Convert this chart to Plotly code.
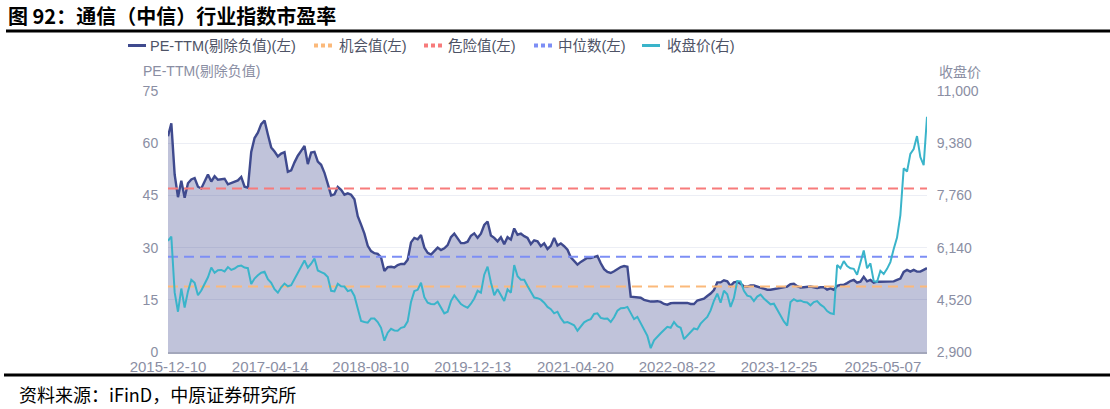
import pandas as pd
import plotly.graph_objects as go

# ---------------- data ----------------
dates = pd.date_range("2015-12-10", periods=229, freq="16D")

pe_ttm = [
    62, 65.7, 51, 44.5, 49.2, 44.3, 48.5, 49.6, 50, 47.5,
    47, 49, 51, 49, 50.5, 49.5, 49.6, 49.8, 48.2, 48.6,
    48.8, 49.3, 50.3, 47.5, 47.2, 57.5, 61.5, 63, 65.5, 66.5,
    62.5, 58.8, 57.6, 56.2, 57, 57.4, 51.8, 52.2, 54.5, 56.4,
    57.8, 59.2, 54, 57.3, 57.5, 54.7, 53.8, 51.5, 48.3, 45,
    45.3, 47.4, 46.6, 45.2, 45.6, 45.2, 43.9, 39, 36.6, 34,
    30.5, 29, 28.4, 28.2, 27.2, 23.3, 24.4, 24.5, 24.3, 25,
    25.3, 25.3, 26.5, 31.5, 32.8, 32.4, 33.6, 30, 28.5, 28,
    29, 30, 29.3, 29.8, 30.7, 33, 34, 32.5, 31.3, 31.3,
    31.7, 33.4, 34.1, 32.8, 34, 36.5, 37.5, 33.5, 32.8, 31.8,
    33, 31, 33, 32.3, 35.5, 33.7, 34, 33.3, 32.8, 31,
    32.1, 31.8, 30.4, 31.2, 29.6, 30.5, 32.8, 30.6, 31.2, 30.4,
    29.4, 27.2, 26.1, 25.1, 25.9, 26.6, 27.1, 27, 27.2, 27.6,
    25.5, 23.8, 23, 22.7, 23.2, 23.8, 24.4, 24.7, 24.5, 15.9,
    15.8, 15.5, 15.6, 15, 14.7, 14.5, 14.5, 14.6, 14.4, 13.8,
    13.6, 14, 14.1, 14.1, 14.1, 14, 14.1, 13.8, 13.8, 14.8,
    15, 15.3, 16.1, 16.8, 17.8, 20, 20, 20.6, 20.3, 19,
    20, 20.2, 19.6, 18.9, 18.8, 19.1, 19.1, 18.8, 18.6, 18.3,
    17.9, 17.9, 18.1, 18.4, 18.4, 18.6, 18.8, 19.5, 19.6, 18.9,
    18.5, 18.6, 18.8, 18.8, 18.6, 18.4, 18.6, 18.6, 17.9, 18.3,
    17.9, 19, 19.3, 19.3, 19.8, 20.4, 20.7, 19.9, 20.2, 21.6,
    20.3, 20.7, 19.9, 20.2, 20.2, 20.2, 20.2, 20.2, 20.3, 20.7,
    21.1, 23, 23.6, 23.1, 23.6, 23.1, 23.1, 23.6, 24.1,
]

close_price = [
    6350, 6479, 4750, 4150, 4870, 4280, 4780, 5140, 5045, 4660,
    4810, 5020, 5220, 5520, 5360, 5440, 5447, 5400, 5535, 5450,
    5490, 5560, 5580, 5520, 5500, 5010, 5180, 5280, 5360, 5390,
    5160, 5045, 4850, 4740, 4910, 5025, 4940, 4975, 5170, 5330,
    5530, 5740, 5520, 5640, 5800, 5430, 5380, 5330, 5230, 4800,
    4780, 5015, 4940, 4931, 4790, 4825, 4640, 4200, 3860, 3830,
    3810, 3940, 3940, 3830, 3650, 3250, 3500, 3620, 3570, 3560,
    3650, 3680, 3850, 4450, 4790, 4830, 5050, 4600, 4430, 4390,
    4380, 4460, 4280, 4100, 4150, 4480, 4660, 4520, 4390, 4320,
    4270, 4400, 4560, 4800, 4740, 5300, 5550, 5060, 4660, 4850,
    4650, 4480, 4840, 4740, 5600, 5250, 5145, 5140, 4950, 4750,
    4590, 4570, 4525, 4430, 4300, 4230, 4100, 4150, 3950, 3810,
    3830, 3780, 3730, 3560, 3680, 3820, 3880, 3920, 4080, 4100,
    3960, 3930, 3940, 3830, 3980, 4180, 4260, 4262, 4300, 4130,
    3920, 3990, 3810, 3600, 3400, 3020, 3260, 3380, 3480, 3580,
    3680, 3650, 3830, 3700, 3650, 3300, 3420, 3530, 3630, 3600,
    3780, 3890, 3990, 4190, 4490, 4710, 4430, 4800, 4690, 4300,
    4580, 5100, 5090, 4800, 4650, 4620, 4480, 4620, 4680, 4560,
    4470, 4380, 4400, 4190, 4030, 3850, 3720, 4450, 4540, 4480,
    4500, 4450, 4440, 4350, 4450, 4480, 4370, 4300, 4170, 4100,
    4080, 5600, 5500, 5720, 5570, 5500, 5480, 5300, 5640, 6050,
    5500, 5650, 5100, 5080, 5420, 5320, 5480, 5690, 6100, 6450,
    7150, 8600, 8500, 9050, 9200, 9600, 8950, 8700, 10200,
]

opportunity_value = 18.8   # 机会值
danger_value = 47.0        # 危险值
median_value = 27.4        # 中位数

left_ticks = [0, 15, 30, 45, 60, 75]
right_ticks = [2900, 4520, 6140, 7760, 9380, 11000]
x_tick_dates = ["2015-12-10", "2017-04-14", "2018-08-10", "2019-12-13",
                "2021-04-20", "2022-08-22", "2023-12-25", "2025-05-07"]

series_names = ["PE-TTM(剔除负值)(左)", "机会值(左)", "危险值(左)", "中位数(左)", "收盘价(右)"]

# ---------------- style ----------------
C_PE = "#3f4a8e"
C_FILL = "rgba(63,74,142,0.33)"
C_OPP = "#fbb97a"
C_DANGER = "#f77b7b"
C_MEDIAN = "#7d8ef5"
C_CLOSE = "#3ab4ca"
C_TICK = "#8a8ea3"
C_LEGEND = "#4e5366"

W, H = 1110, 409
L, R, T, B = 168, 183, 91, 57
PW, PH = W - L - R, H - T - B

def px(xp):
    return (xp - L) / PW

def py(yp):
    return (H - B - yp) / PH

CJK = "Liberation Sans, Noto Sans CJK SC, sans-serif"

fig = go.Figure()

fig.add_trace(go.Scatter(
    x=dates, y=pe_ttm, mode="lines", name=series_names[0],
    line=dict(color=C_PE, width=2.4), fill="tozeroy", fillcolor=C_FILL,
    showlegend=False, yaxis="y"))

for val, col, nm in [(opportunity_value, C_OPP, series_names[1]),
                     (danger_value, C_DANGER, series_names[2]),
                     (median_value, C_MEDIAN, series_names[3])]:
    fig.add_trace(go.Scatter(
        x=dates, y=[val] * len(dates), mode="lines", name=nm,
        line=dict(color=col, width=2, dash="10px,6px"),
        showlegend=False, yaxis="y"))

fig.add_trace(go.Scatter(
    x=dates, y=close_price, mode="lines", name=series_names[4],
    line=dict(color=C_CLOSE, width=2),
    showlegend=False, yaxis="y2"))

fig.update_layout(
    width=W, height=H,
    margin=dict(l=L, r=R, t=T, b=B),
    paper_bgcolor="white", plot_bgcolor="white",
    showlegend=False,
    xaxis=dict(
        type="date",
        range=[dates[0], dates[-1]],
        tickvals=x_tick_dates,
        tickformat="%Y-%m-%d",
        tickfont=dict(family="Liberation Sans, Arial, sans-serif", size=15, color=C_TICK),
        showgrid=False, zeroline=False,
        showline=True, linecolor="#a3a7bb", linewidth=1.5,
        ticks="outside", ticklen=0, ticklabelstandoff=0,
    ),
    yaxis=dict(
        range=[0, 75], tickvals=left_ticks,
        tickfont=dict(family=CJK, size=14, color=C_TICK),
        showgrid=True, gridcolor="#eceef5", gridwidth=1,
        zeroline=False, showline=False,
        ticks="outside", ticklen=0, ticklabelstandoff=6,
    ),
    yaxis2=dict(
        range=[2900, 11000], tickvals=right_ticks, tickformat=",",
        overlaying="y", side="right",
        tickfont=dict(family=CJK, size=14, color=C_TICK),
        showgrid=False, zeroline=False, showline=False,
        ticks="outside", ticklen=0, ticklabelstandoff=6,
    ),
)

annotations = []
shapes = []

# title
annotations.append(dict(
    text="<b>图 92：通信（中信）行业指数市盈率</b>", x=px(7), y=py(0),
    xref="paper", yref="paper", xanchor="left", yanchor="top",
    borderpad=0,
    showarrow=False, font=dict(family="Noto Sans CJK SC", size=20, color="#000000")))
# title rule
shapes.append(dict(type="line", xref="paper", yref="paper",
                   x0=px(6), x1=px(1110), y0=py(31), y1=py(31),
                   line=dict(color="#000000", width=3)))
# bottom rule
shapes.append(dict(type="line", xref="paper", yref="paper",
                   x0=px(4), x1=px(1110), y0=py(375), y1=py(375),
                   line=dict(color="#000000", width=3)))
# source
annotations.append(dict(
    text="资料来源：iFinD，中原证券研究所", x=px(17), y=py(394),
    xref="paper", yref="paper", xanchor="left", yanchor="middle",
    showarrow=False, font=dict(family="Noto Sans CJK SC", size=18, color="#000000")))

# axis titles
annotations.append(dict(
    text="PE-TTM(剔除负值)", x=px(141), y=py(71),
    xref="paper", yref="paper", xanchor="left", yanchor="middle",
    showarrow=False, font=dict(family=CJK, size=14, color=C_TICK)))
annotations.append(dict(
    text="收盘价", x=px(937), y=py(72),
    xref="paper", yref="paper", xanchor="left", yanchor="middle",
    showarrow=False, font=dict(family=CJK, size=14, color=C_TICK)))

# manual legend
LY = 45.5
legend_items = [
    (128, 148, C_PE, "solid"),
    (313, 337, C_OPP, "dot"),
    (423, 446, C_DANGER, "dot"),
    (533, 556, C_MEDIAN, "dot"),
    (642, 665, C_CLOSE, "solid"),
]
for (sx, tx, col, kind), nm in zip(legend_items, series_names):
    if kind == "solid":
        shapes.append(dict(type="line", xref="paper", yref="paper",
                           x0=px(sx), x1=px(sx + 18), y0=py(LY), y1=py(LY),
                           line=dict(color=col, width=3)))
    else:
        for k in range(3):
            x0 = sx + 1 + k * 7
            shapes.append(dict(type="rect", xref="paper", yref="paper",
                               x0=px(x0), x1=px(x0 + 4), y0=py(LY - 2), y1=py(LY + 2),
                               fillcolor=col, line=dict(width=0)))
    annotations.append(dict(
        text=nm, x=px(tx), y=py(LY),
        xref="paper", yref="paper", xanchor="left", yanchor="middle",
        showarrow=False, font=dict(family=CJK, size=14.5, color=C_LEGEND)))

fig.update_layout(annotations=annotations, shapes=shapes)

fig.write_html("out.html")
